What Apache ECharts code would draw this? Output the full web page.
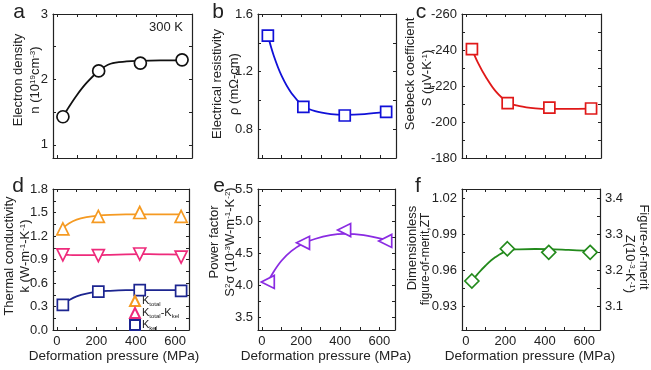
<!DOCTYPE html>
<html>
<head>
<meta charset="utf-8">
<script src="https://cdn.jsdelivr.net/npm/echarts@6.0.0/dist/echarts.min.js"></script>
<style>
html,body{margin:0;padding:0;background:#fff;}
#chart{width:651px;height:370px;}
</style>
</head>
<body>
<div id="chart"></div>
<script>
// ---------- data ----------
const pressure = [30, 210, 420, 630];
const electronDensity = [1.43, 2.13, 2.25, 2.30];
const resistivity = [1.45, 0.955, 0.895, 0.92];
const seebeck = [-240.5, -210.5, -208, -207.5];
const kTotal = [1.29, 1.45, 1.50, 1.45];
const kLattice = [0.96, 0.95, 0.97, 0.93];
const kElectronic = [0.32, 0.49, 0.51, 0.50];
const powerFactor = [4.05, 4.66, 4.86, 4.69];
const zt = [0.951, 0.978, 0.975, 0.975];

// fitted curves
const fitPressure = [30, 60, 100, 150, 210, 270, 350, 420, 520, 630];
const fitElectronDensity = [1.43, 1.58, 1.76, 1.95, 2.13, 2.24, 2.275, 2.285, 2.29, 2.29];
const fitResistivity = [1.45, 1.31, 1.17, 1.05, 0.962, 0.925, 0.905, 0.900, 0.905, 0.92];
const fitSeebeck = [-240.5, -233, -225, -217, -211, -208.8, -207.6, -207.3, -207.3, -207.4];
const fitKTotal = [1.30, 1.36, 1.41, 1.44, 1.46, 1.47, 1.475, 1.475, 1.475, 1.475];
const fitKLattice = [0.96, 0.958, 0.956, 0.955, 0.956, 0.96, 0.966, 0.968, 0.966, 0.962];
const fitKElectronic = [0.33, 0.38, 0.43, 0.465, 0.49, 0.50, 0.508, 0.51, 0.51, 0.51];
const fitPowerFactor = [4.05, 4.21, 4.38, 4.53, 4.65, 4.72, 4.78, 4.80, 4.78, 4.71];
const fitZT = [0.951, 0.957, 0.964, 0.971, 0.9765, 0.9775, 0.9778, 0.9777, 0.977, 0.9762];

// tick values / labels
const xTicks = [0, 100, 200, 300, 400, 500, 600];
const xTickLabels = [0, 200, 400, 600];
const yTicksA = [1, 1.5, 2, 2.5, 3];
const yLabelsA = [1, 2, 3];
const yTicksB = [0.8, 1.0, 1.2, 1.4, 1.6];
const yLabelsB = [0.8, 1.2, 1.6];
const yTicksC = [-260, -250, -240, -230, -220, -210, -200, -190, -180];
const yLabelsC = [-260, -240, -220, -200, -180];
const yTicksD = [0, 0.15, 0.3, 0.45, 0.6, 0.75, 0.9, 1.05, 1.2, 1.35, 1.5, 1.65, 1.8];
const yLabelsD = [0.0, 0.3, 0.6, 0.9, 1.2, 1.5, 1.8];
const yTicksE = [3.5, 3.75, 4.0, 4.25, 4.5, 4.75, 5.0, 5.25, 5.5];
const yLabelsE = [3.5, 4.0, 4.5, 5.0, 5.5];
const yTicksF = [0.93, 0.945, 0.96, 0.975, 0.99, 1.005, 1.02];
const yLabelsF = [0.93, 0.96, 0.99, 1.02];
const yTicksZ = [3.1, 3.15, 3.2, 3.25, 3.3, 3.35, 3.4];
const yLabelsZ = [3.1, 3.2, 3.3, 3.4];

// ---------- layout ----------
const FONT = '"Liberation Sans", Arial, Helvetica, sans-serif';
const INK = '#222';
const panels = [
  {grid:{left:53, top:14, width:139, height:144}, xMax:680, yMin:0.8, yMax:3, ticks:yTicksA, labels:yLabelsA, dec:0, showX:false},
  {grid:{left:258, top:14, width:138, height:144}, xMax:680, yMin:0.6, yMax:1.6, ticks:yTicksB, labels:yLabelsB, dec:1, showX:false},
  {grid:{left:462, top:14, width:139, height:144}, xMax:680, yMin:-260, yMax:-180, ticks:yTicksC, labels:yLabelsC, dec:0, showX:false, inverse:true},
  {grid:{left:53, top:189, width:136, height:141}, xMax:670, yMin:0, yMax:1.8, ticks:yTicksD, labels:yLabelsD, dec:1, showX:true},
  {grid:{left:258, top:189, width:137, height:141}, xMax:680, yMin:3.3, yMax:5.5, ticks:yTicksE, labels:yLabelsE, dec:1, showX:true},
  {grid:{left:462, top:189, width:138, height:141}, xMax:680, yMin:0.91, yMax:1.028, ticks:yTicksF, labels:yLabelsF, dec:2, showX:true}
];

const axisLine = {show:true, onZero:false, lineStyle:{color:INK, width:1.2}};
const grids = [], xAxes = [], yAxes = [];
panels.forEach((p, i) => {
  grids.push(Object.assign({containLabel:false}, p.grid));
  ['bottom','top'].forEach(pos => {
    xAxes.push({
      type:'value', gridIndex:i, position:pos, min:-20, max:p.xMax,
      axisLine:axisLine, splitLine:{show:false},
      axisTick:{show:true, inside:true, length:3, customValues:xTicks, lineStyle:{color:INK, width:1}},
      axisLabel:{show: pos==='bottom' && p.showX, customValues:xTickLabels, margin:5,
        fontSize:13, fontFamily:FONT, color:INK}
    });
  });
  ['left','right'].forEach(pos => {
    const isZ = (i === 5 && pos === 'right');
    yAxes.push({
      type:'value', gridIndex:i, position:pos,
      min: isZ ? p.yMin/0.3 : p.yMin, max: isZ ? p.yMax/0.3 : p.yMax,
      inverse: !!p.inverse,
      axisLine:axisLine, splitLine:{show:false},
      axisTick:{show:true, inside:true, length:3, customValues: isZ ? yTicksZ : p.ticks, lineStyle:{color:INK, width:1}},
      axisLabel:{show: pos==='left' || isZ, customValues: isZ ? yLabelsZ : p.labels, margin:5,
        fontSize:13, fontFamily:FONT, color:INK,
        formatter: v => Number(v).toFixed(isZ ? 1 : p.dec)}
    });
  });
});

function pairs(xs, ys){ return xs.map((x, k) => [x, ys[k]]); }
const series = [];
function addPanel(i, name, fitY, ptsY, color, symbol, size, rotate){
  series.push({
    type:'line', name: name + '_fit', xAxisIndex:2*i, yAxisIndex:2*i,
    data: pairs(fitPressure, fitY), smooth:0.35, showSymbol:false, silent:true,
    lineStyle:{color:color, width:1.8}, z:2
  });
  series.push({
    type:'scatter', name:name, xAxisIndex:2*i, yAxisIndex:2*i,
    data: pairs(pressure, ptsY), symbol:symbol, symbolSize:size, symbolRotate:rotate||0,
    itemStyle:{color:'#fff', borderColor:color, borderWidth:1.7, opacity:1}, z:3
  });
}
addPanel(0, 'n', fitElectronDensity, electronDensity, '#111', 'circle', 12);
addPanel(1, 'rho', fitResistivity, resistivity, '#1010d8', 'rect', 11);
addPanel(2, 'S', fitSeebeck, seebeck, '#e01818', 'rect', 11);
addPanel(3, 'Ktotal', fitKTotal, kTotal, '#f59a22', 'triangle', 12);
addPanel(3, 'Klat', fitKLattice, kLattice, '#ee2a7b', 'triangle', 12, 180);
addPanel(3, 'Kel', fitKElectronic, kElectronic, '#1c2590', 'rect', 11);
addPanel(4, 'PF', fitPowerFactor, powerFactor, '#8a2be2', 'triangle', 13, 90);
addPanel(5, 'ZT', fitZT, zt, '#238a1c', 'diamond', 14);

// ---------- text ----------
const supRich = {sup:{fontSize:8, verticalAlign:'top', fontFamily:FONT, color:INK}};
function vText(x, y, text, rot, size){
  return {type:'text', x:x, y:y, rotation: rot, silent:true,
    style:{text:text, fontSize:size||13, fontFamily:FONT, fill:INK,
      align:'center', verticalAlign:'middle', rich:supRich}};
}
function hText(x, y, text, size, align){
  return {type:'text', x:x, y:y, silent:true,
    style:{text:text, fontSize:size, fontFamily:FONT, fill:INK,
      align:align||'center', verticalAlign:'middle'}};
}
const UP = Math.PI/2, DOWN = -Math.PI/2;
const graphics = [
  hText(19, 12, 'a', 21), hText(218, 12, 'b', 21), hText(421, 12, 'c', 21),
  hText(18, 186, 'd', 21), hText(219, 186, 'e', 21), hText(418, 186, 'f', 21),
  hText(166, 27, '300 K', 13),
  vText(18, 80, 'Electron density', UP),
  vText(35, 80, 'n (10{sup|19}cm{sup|-3})', UP),
  vText(217, 84, 'Electrical resistivity', UP),
  vText(234, 84, 'ρ (mΩ-cm)', UP),
  vText(410, 74, 'Seebeck coefficient', UP),
  vText(427, 78, 'S (μV-K{sup|-1})', UP),
  vText(9, 256, 'Thermal conductivity', UP),
  vText(25, 256, 'k (W-m{sup|-1}-K{sup|-1})', UP),
  vText(214, 242, 'Power factor', UP),
  vText(230, 242, 'S{sup|2}σ (10{sup|-3}W-m{sup|-1}-K{sup|-2})', UP),
  vText(412, 248, 'Dimensionless', UP),
  vText(426, 259, 'figure-of-merit,ZT', UP, 12),
  vText(644, 247, 'Figure-of-merit', DOWN),
  vText(630, 264, 'Z(10{sup|-3}-K{sup|-1})', DOWN),
  hText(114, 356, 'Deformation pressure (MPa)', 13.5),
  hText(326, 356, 'Deformation pressure (MPa)', 13.5),
  hText(530, 356, 'Deformation pressure (MPa)', 13.5)
];

const legendNames = {
  Ktotal:'K{sub|total}',
  Klat:'K{sub|total}-K{sub|kel}',
  Kel:'K{sub|kel}'
};

const chart = echarts.init(document.getElementById('chart'), null, {renderer:'canvas'});
chart.setOption({
  animation:false,
  backgroundColor:'#fff',
  grid:grids, xAxis:xAxes, yAxis:yAxes, series:series,
  legend:{
    data:['Ktotal','Klat','Kel'], left:129, top:295, orient:'vertical', padding:0,
    itemGap:0, itemWidth:10, itemHeight:10, selectedMode:false,
    formatter: n => legendNames[n],
    textStyle:{fontSize:11, lineHeight:12, fontFamily:FONT, color:INK, padding:[0,0,0,-3],
      rich:{sub:{fontSize:6, lineHeight:12, verticalAlign:'bottom', fontFamily:FONT, color:INK}}}
  },
  graphic:graphics
});
</script>
</body>
</html>
